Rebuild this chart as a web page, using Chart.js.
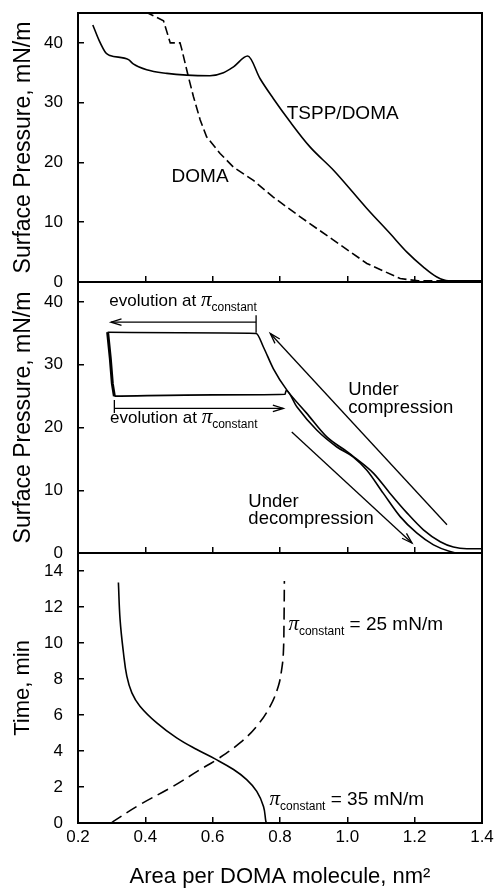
<!DOCTYPE html>
<html><head><meta charset="utf-8">
<script src="https://cdn.jsdelivr.net/npm/chart.js@4/dist/chart.umd.min.js"></script>
<style>
html,body{margin:0;padding:0;background:#fff;width:494px;height:893px;overflow:hidden}
.p{position:absolute;left:0;width:494px}
canvas{display:block}
</style></head><body>
<div class="p" style="top:0;height:300px"><canvas id="c1" width="494" height="300"></canvas></div>
<div class="p" style="top:270px;height:300px"><canvas id="c2" width="494" height="300"></canvas></div>
<div class="p" style="top:540px;height:353px"><canvas id="c3" width="494" height="353"></canvas></div>
<script>
// ---- tick values ----
const areaTicks = [0.2, 0.4, 0.6, 0.8, 1.0, 1.2, 1.4];
const pressureTicks = [0, 10, 20, 30, 40];
const timeTicks = [0, 2, 4, 6, 8, 10, 12, 14];

// ---- top panel: isotherms ----
const tsppArea = [0.244,0.262,0.283,0.295,0.35,0.364,0.404,0.464,0.523,0.592,0.632,0.662,0.704,0.741,0.780,0.830,0.889,0.959,1.058,1.127,1.177,1.226,1.266,1.30,1.35,1.40];
const tsppPressure = [43.0,40.5,38.3,37.9,37.2,36.5,35.5,34.9,34.6,34.5,35.0,36.0,37.8,34.0,30.7,26.8,22.6,18.7,12.3,8.1,5.0,2.5,0.84,0.2,0.2,0.2];
const domaArea = [0.40,0.454,0.474,0.503,0.508,0.528,0.543,0.563,0.582,0.622,0.662,0.721,0.780,0.860,0.959,1.058,1.157,1.21,1.30,1.40];
const domaPressure = [45.2,43.7,40.0,40.0,39.0,34.3,31.0,27.1,24.3,21.5,19.2,17.0,14.2,10.9,7.0,3.1,0.57,0.2,0.2,0.2];

// ---- middle panel: compression / hold / decompression ----
const compArea = [1.40,1.355,1.315,1.276,1.226,1.177,1.127,1.078,1.02,0.998,0.939,0.879,0.82,0.78,0.751,0.729,0.50,0.288];
const compPressure = [0.68,0.68,0.95,1.8,3.7,6.4,9.5,12.7,15.3,16.2,18.5,22.3,26.0,29.4,32.8,35.0,35.1,35.2];
const dropArea = [0.288,0.296,0.302,0.308];
const dropPressure = [35.2,31.0,27.0,25.0];
const decompArea = [0.308,0.60,0.815,0.818,0.85,0.909,0.969,1.018,1.058,1.107,1.157,1.206,1.256,1.305,1.33,1.40];
const decompPressure = [25.0,25.2,25.3,25.9,23.3,19.6,16.9,15.3,13.2,9.5,5.8,3.2,1.3,0.25,0.0,0.0];

// annotation arrows (area, pressure)
const arrowTopArea = [0.729, 0.298];     const arrowTopP = [36.8, 36.8];
const barTopArea = [0.729, 0.729];       const barTopP = [37.9, 35.1];
const arrowBotArea = [0.308, 0.81];      const arrowBotP = [23.05, 23.05];
const barBotArea = [0.308, 0.308];       const barBotP = [24.4, 22.3];
const arrowCompArea = [1.296, 0.771];    const arrowCompP = [4.5, 35.0];
const arrowDecompArea = [0.835, 1.192];  const arrowDecompP = [19.3, 1.6];

// ---- bottom panel: time at constant pressure ----
const time35Area = [0.32,0.325,0.335,0.345,0.36,0.384,0.434,0.493,0.553,0.607,0.662,0.701,0.731,0.751,0.758,0.76];
const time35Min = [13.36,11.3,9.46,8.16,7.23,6.49,5.56,4.73,4.08,3.56,2.97,2.41,1.76,0.92,0.09,0];
const time25Area = [0.30,0.305,0.384,0.483,0.563,0.612,0.681,0.731,0.771,0.795,0.805,0.810,0.812,0.813];
const time25Min = [0,0.09,1.02,2.04,2.97,3.52,4.45,5.38,6.49,7.6,8.53,9.46,11.3,13.45];

const pts = (xs, ys) => xs.map((x, i) => ({x, y: ys[i]}));

const SANS = '"Liberation Sans", Arial, sans-serif';
const SERIF = '"Liberation Serif", "Times New Roman", serif';

function drawRich(ctx, x, y, parts) {
  let cx = x;
  parts.forEach(p => {
    ctx.font = p.f;
    ctx.fillText(p.t, cx, y + (p.dy || 0));
    cx += ctx.measureText(p.t).width + (p.gap || 0);
  });
}
const txt = (s, size) => ({t: s, f: size + 'px ' + SANS});
const pi = () => ({t: 'π', f: 'italic 21px ' + SERIF, gap: 0});
const sub = () => ({t: 'constant', f: '12px ' + SANS, dy: 5});

const framePlugin = {
  id: 'frame',
  afterDraw(chart) {
    const {ctx, chartArea: a} = chart;
    ctx.save();
    ctx.strokeStyle = '#000';
    ctx.lineWidth = 2;
    ctx.strokeRect(a.left, a.top, a.right - a.left, a.bottom - a.top);
    ctx.restore();
  }
};
const arrowPlugin = {
  id: 'arrows',
  afterDatasetsDraw(chart) {
    const ctx = chart.ctx;
    chart.data.datasets.forEach((ds, i) => {
      if (!ds.arrowHead) return;
      const d = chart.getDatasetMeta(i).data;
      const p1 = d[d.length - 2], p2 = d[d.length - 1];
      const ang = Math.atan2(p2.y - p1.y, p2.x - p1.x);
      const L = 11, A = 0.3;
      ctx.save();
      ctx.strokeStyle = '#000';
      ctx.lineWidth = 1.3;
      ctx.beginPath();
      ctx.moveTo(p2.x - L * Math.cos(ang - A), p2.y - L * Math.sin(ang - A));
      ctx.lineTo(p2.x, p2.y);
      ctx.lineTo(p2.x - L * Math.cos(ang + A), p2.y - L * Math.sin(ang + A));
      ctx.stroke();
      ctx.restore();
    });
  }
};
function notesPlugin(items) {
  return {
    id: 'notes',
    afterDatasetsDraw(chart) {
      const {ctx, scales} = chart;
      ctx.save();
      ctx.fillStyle = '#000';
      ctx.textBaseline = 'alphabetic';
      ctx.textAlign = 'left';
      items.forEach(it => drawRich(ctx, scales.x.getPixelForValue(it.x), scales.y.getPixelForValue(it.y), it.parts));
      ctx.restore();
    }
  };
}

function line(data, opts) {
  return Object.assign({data, borderColor: '#000', borderWidth: 1.6, pointRadius: 0, fill: false, tension: 0}, opts || {});
}
const noPad = s => { s.paddingTop = 0; s.paddingBottom = 0; s.paddingLeft = 0; s.paddingRight = 0; };

function makeChart(id, datasets, cfg) {
  const gridOpts = {drawOnChartArea: false, drawTicks: true, tickLength: -6, color: '#000', lineWidth: 1.5};
  return new Chart(document.getElementById(id), {
    type: 'line',
    data: {datasets},
    options: {
      responsive: false, animation: false, events: [],
      layout: {padding: cfg.padding},
      plugins: {legend: {display: false}, tooltip: {enabled: false}},
      scales: {
        x: {
          type: 'linear', min: 0.2, max: 1.4,
          afterBuildTicks: s => { s.ticks = areaTicks.map(v => ({value: v})); },
          grid: gridOpts, border: {display: false},
          ticks: {display: cfg.xLabels, padding: 10, color: '#000', autoSkip: false, maxRotation: 0,
                  font: {family: SANS, size: 17}, callback: v => v.toFixed(1)},
          title: cfg.xTitle ? {display: true, text: cfg.xTitle, color: '#000', font: {family: SANS, size: 22}, padding: {top: 0, bottom: 3}} : {display: false},
          afterFit: s => { s.height = cfg.xHeight; noPad(s); }
        },
        y: {
          type: 'linear', min: cfg.yMin, max: cfg.yMax,
          afterBuildTicks: s => { s.ticks = cfg.yTicks.map(v => ({value: v})); },
          grid: gridOpts, border: {display: false},
          ticks: {padding: 21, color: '#000', font: {family: SANS, size: 17}},
          title: {display: true, text: cfg.yTitle, color: '#000', font: {family: SANS, size: cfg.yTitleSize}, padding: {top: 10, bottom: 0}},
          afterFit: s => { s.width = 78; noPad(s); }
        }
      }
    },
    plugins: [framePlugin, arrowPlugin, notesPlugin(cfg.notes)]
  });
}

// Top panel
makeChart('c1', [
  line(pts(tsppArea, tsppPressure), {cubicInterpolationMode: 'monotone'}),
  line(pts(domaArea, domaPressure), {borderDash: [9, 4]})
], {
  padding: {left: 0, right: 12, top: 13, bottom: 18}, xLabels: false, xHeight: 0,
  yMin: 0, yMax: 45, yTicks: pressureTicks, yTitle: 'Surface Pressure, mN/m', yTitleSize: 23,
  notes: [
    {x: 0.82, y: 27.2, parts: [txt('TSPP/DOMA', 19)]},
    {x: 0.478, y: 16.7, parts: [txt('DOMA', 19)]}
  ]
});

// Middle panel
makeChart('c2', [
  line(pts(compArea, compPressure), {cubicInterpolationMode: 'monotone'}),
  line(pts(dropArea, dropPressure), {borderWidth: 3}),
  line(pts(decompArea, decompPressure), {cubicInterpolationMode: 'monotone'}),
  line(pts(arrowTopArea, arrowTopP), {borderWidth: 1.3, arrowHead: true}),
  line(pts(barTopArea, barTopP), {borderWidth: 1.3}),
  line(pts(arrowBotArea, arrowBotP), {borderWidth: 1.3, arrowHead: true}),
  line(pts(barBotArea, barBotP), {borderWidth: 1.3}),
  line(pts(arrowCompArea, arrowCompP), {borderWidth: 1.3, arrowHead: true}),
  line(pts(arrowDecompArea, arrowDecompP), {borderWidth: 1.3, arrowHead: true})
], {
  padding: {left: 0, right: 12, top: 12, bottom: 17}, xLabels: false, xHeight: 0,
  yMin: 0, yMax: 43.2, yTicks: pressureTicks, yTitle: 'Surface Pressure, mN/m', yTitleSize: 23,
  notes: [
    {x: 0.293, y: 39.4, parts: [txt('evolution at ', 17), pi(), sub()]},
    {x: 0.295, y: 20.7, parts: [txt('evolution at ', 17), pi(), sub()]},
    {x: 1.003, y: 25.2, parts: [txt('Under', 18.5)]},
    {x: 1.003, y: 22.3, parts: [txt('compression', 18.5)]},
    {x: 0.706, y: 7.4, parts: [txt('Under', 18.5)]},
    {x: 0.706, y: 4.6, parts: [txt('decompression', 18.5)]}
  ]
});

// Bottom panel
makeChart('c3', [
  line(pts(time35Area, time35Min), {tension: 0.4}),
  line(pts(time25Area, time25Min), {tension: 0.4, borderDash: [12, 6]})
], {
  padding: {left: 0, right: 12, top: 13, bottom: 0}, xLabels: true, xHeight: 70,
  xTitle: 'Area per DOMA molecule, nm²',
  yMin: 0, yMax: 15, yTicks: timeTicks, yTitle: 'Time, min', yTitleSize: 22,
  notes: [
    {x: 0.825, y: 10.7, parts: [pi(), sub(), txt(' = 25 mN/m', 19)]},
    {x: 0.769, y: 1.02, parts: [pi(), sub(), txt(' = 35 mN/m', 19)]}
  ]
});
</script>
</body></html>
